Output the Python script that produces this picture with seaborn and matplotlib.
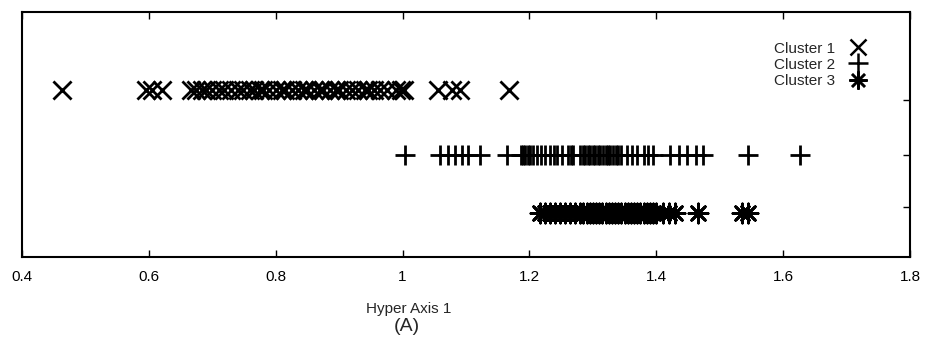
import matplotlib
matplotlib.use("Agg")
import matplotlib.pyplot as plt
import seaborn as sns
import pandas as pd
from matplotlib.lines import Line2D

# ---- data ----
cluster_names = ["Cluster 1", "Cluster 2", "Cluster 3"]
cluster_rows = [0.682, 0.416, 0.180]

cluster1_x = [0.463, 0.596, 0.605, 0.621, 0.667, 0.675, 0.683, 0.690, 0.700, 0.710,
              0.718, 0.730, 0.740, 0.748, 0.760, 0.765, 0.775, 0.780, 0.790, 0.800,
              0.810, 0.815, 0.825, 0.835, 0.845, 0.850, 0.860, 0.870, 0.875, 0.885,
              0.895, 0.900, 0.910, 0.920, 0.930, 0.940, 0.945, 0.955, 0.965, 0.975,
              0.990, 0.997, 1.002, 1.056, 1.078, 1.091, 1.167]
cluster2_x = [1.004, 1.059, 1.072, 1.083, 1.094, 1.103, 1.122, 1.165, 1.186, 1.190,
              1.193, 1.197, 1.201, 1.206, 1.212, 1.218, 1.225, 1.233, 1.238, 1.244,
              1.252, 1.260, 1.265, 1.269, 1.280, 1.284, 1.288, 1.292, 1.296, 1.300,
              1.304, 1.308, 1.312, 1.316, 1.320, 1.324, 1.327, 1.332, 1.336, 1.340,
              1.345, 1.354, 1.362, 1.370, 1.380, 1.387, 1.395, 1.422, 1.435, 1.449,
              1.462, 1.474, 1.545, 1.627]
cluster3_x = [1.217, 1.225, 1.232, 1.240, 1.248, 1.256, 1.264, 1.272, 1.280, 1.285,
              1.290, 1.295, 1.300, 1.305, 1.310, 1.315, 1.320, 1.325, 1.330, 1.335,
              1.340, 1.345, 1.350, 1.355, 1.360, 1.365, 1.370, 1.375, 1.380, 1.385,
              1.390, 1.395, 1.400, 1.410, 1.420, 1.430, 1.465, 1.535, 1.545]

x_ticks = [0.4, 0.6, 0.8, 1.0, 1.2, 1.4, 1.6, 1.8]
x_tick_labels = ["0.4", "0.6", "0.8", "1", "1.2", "1.4", "1.6", "1.8"]
y_ticks = [0.641, 0.416, 0.204]

x_label = "Hyper Axis 1"
panel_label = "(A)"

# ---- styling ----
sns.set_style("white")
plt.rcParams["font.family"] = ["Liberation Sans", "DejaVu Sans"]

fig = plt.figure(figsize=(9.3, 3.57), dpi=100)
ax = fig.add_axes([0.0237, 0.280, 0.9548, 0.686])

markers = ["x", "+", (8, 2, 0)]
sizes = [170, 200, 190]
all_x = [cluster1_x, cluster2_x, cluster3_x]

for name, row, xs, mk, sz in zip(cluster_names, cluster_rows, all_x, markers, sizes):
    df = pd.DataFrame({"x": xs, "y": [row] * len(xs)})
    sns.scatterplot(data=df, x="x", y="y", marker=mk, s=sz, color="black",
                    linewidth=2.0, ax=ax, legend=False)

ax.set_xlim(0.4, 1.8)
ax.set_ylim(0, 1)
ax.set_xticks(x_ticks)
ax.set_xticklabels(x_tick_labels, fontsize=11)
ax.set_yticks(y_ticks)
ax.set_yticklabels([])
ax.tick_params(axis="x", direction="in", top=True, bottom=True, length=5,
               width=1, pad=9, colors="black")
ax.tick_params(axis="y", direction="in", left=False, right=True, length=5,
               width=1, colors="black")
for sp in ax.spines.values():
    sp.set_color("black")
    sp.set_linewidth(1.5)
    sp.set_visible(True)

ax.set_xlabel(x_label, fontsize=11)
ax.xaxis.set_label_coords(0.435, -0.185)
ax.set_ylabel("")
fig.text(0.4376, 0.085, panel_label, ha="center", va="center", fontsize=14)

handles = [Line2D([], [], linestyle="none", marker=mk, color="black",
                  markersize=ms, markeredgewidth=1.8)
           for mk, ms in zip(markers, [12, 14, 13])]
leg = ax.legend(handles, cluster_names, loc="upper right", markerfirst=False,
                frameon=False, fontsize=11, handletextpad=0.5,
                labelspacing=0.15, bbox_to_anchor=(0.966, 0.905),
                borderaxespad=0)

fig.savefig("out.png", dpi=100)
